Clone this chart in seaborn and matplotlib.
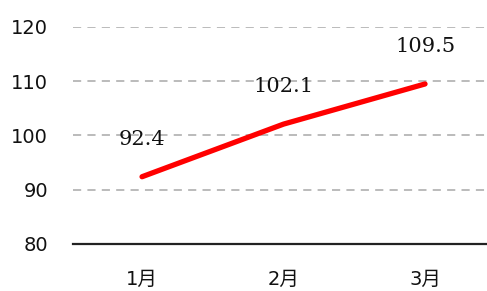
import matplotlib
matplotlib.use("Agg")
import matplotlib.pyplot as plt
import seaborn as sns
import pandas as pd

months = ["1月", "2月", "3月"]
values = [92.4, 102.1, 109.5]
yticks = [80, 90, 100, 110, 120]

sns.set_theme(style="white")
plt.rcParams['font.family'] = ['DejaVu Sans', 'Noto Sans CJK JP']

df = pd.DataFrame({"month": months, "value": values})

fig = plt.figure(figsize=(4.87, 2.91), dpi=100)
ax = fig.add_axes([73/487, 1-244/291, 1-73/487, (244-27)/291])

for y in yticks[1:]:
    ax.axhline(y, color="#bbbbbb", lw=1.4, dashes=(4.2, 3.2), zorder=1)

sns.lineplot(data=df, x="month", y="value", ax=ax, color="#ff0000", lw=3.8,
             solid_capstyle="round", zorder=3, sort=False)

for i, v in enumerate(values):
    ax.annotate(f"{v}", (i, v), xytext=(0, 27), textcoords="offset points",
                ha="center", va="center", fontsize=15,
                family="DejaVu Serif", color="#111111")

ax.set_ylim(80, 120)
ax.set_xlim(-0.488, 2.438)
ax.set_yticks(yticks)
ax.set_xlabel("")
ax.set_ylabel("")
for s in ["top", "right", "left"]:
    ax.spines[s].set_visible(False)
ax.spines["bottom"].set_color("#222222")
ax.spines["bottom"].set_linewidth(1.6)
ax.tick_params(axis="y", length=0, pad=18, labelsize=14, colors="#111111")
ax.tick_params(axis="x", length=0, pad=19, labelsize=14, colors="#111111")

fig.savefig("out.png", dpi=100)
